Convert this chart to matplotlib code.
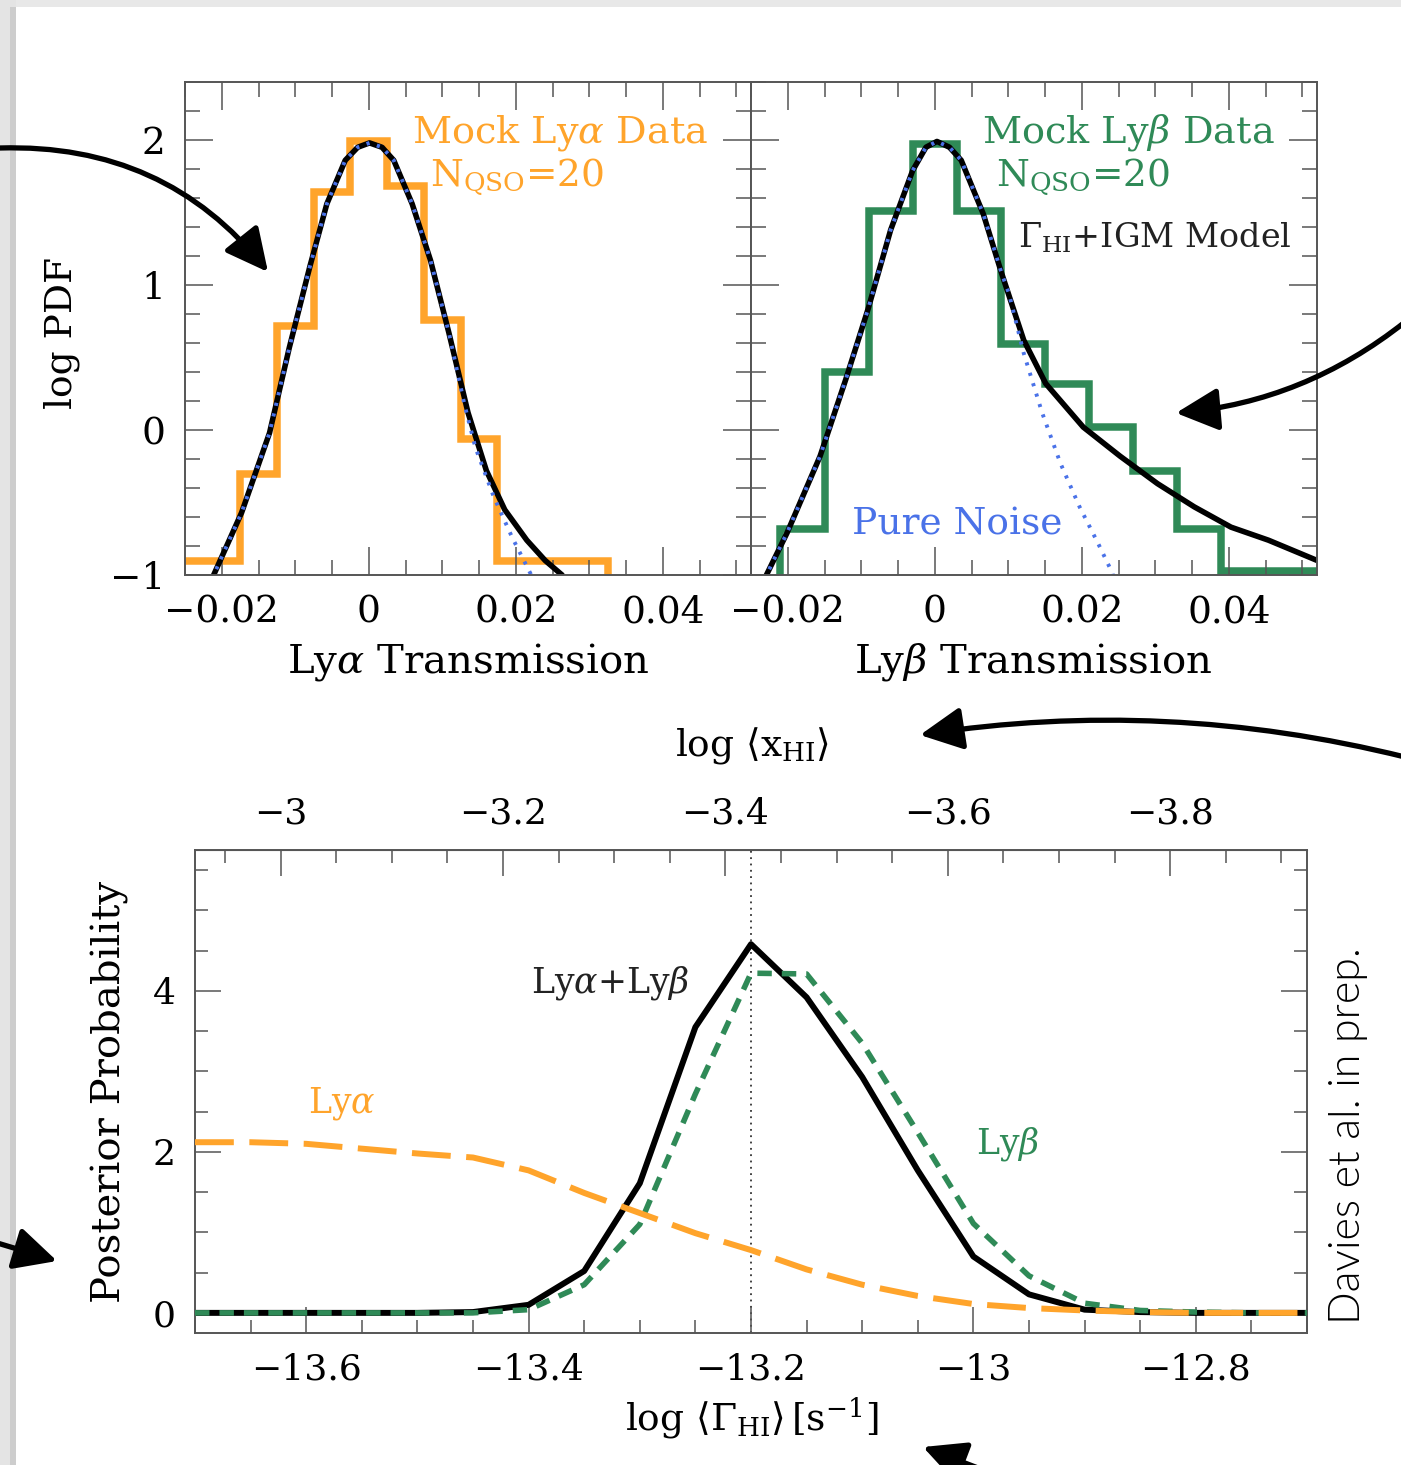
import matplotlib
matplotlib.use('Agg')
import matplotlib.pyplot as plt
from matplotlib.patches import FancyArrowPatch, Rectangle
from matplotlib.ticker import MultipleLocator, FuncFormatter, FixedLocator

plt.rcParams['font.family'] = 'DejaVu Serif'
plt.rcParams['mathtext.fontset'] = 'dejavuserif'

W, H = 1401, 1465
orange = '#ffa42b'
green = '#2f8a57'
blue = '#4a72e8'
spine_col = '#555555'

# --- top left: Lya transmission PDF ---
lya_edges = [-0.0275, -0.0175, -0.0125, -0.0075, -0.0025, 0.0025, 0.0075, 0.0125, 0.0175, 0.0325]
lya_hist = [-0.90, -0.30, 0.72, 1.64, 1.99, 1.68, 0.76, -0.06, -0.90]
lya_model_x = [-0.0218, -0.0211, -0.0173, -0.0135, -0.0108, -0.0080, -0.0057, -0.0032, -0.0015,
               0.0001, 0.0018, 0.0034, 0.0059, 0.0084, 0.0109, 0.0135, 0.0160, 0.0185,
               0.0215, 0.0240, 0.0263, 0.0270]
lya_model_y = [-1.1, -1.0, -0.57, -0.02, 0.57, 1.13, 1.56, 1.86, 1.95,
               1.98, 1.95, 1.86, 1.56, 1.17, 0.67, 0.12, -0.28, -0.55,
               -0.76, -0.90, -1.0, -1.1]
lya_noise_x = [-0.0218, -0.0211, -0.0173, -0.0135, -0.0108, -0.0080, -0.0057, -0.0032, -0.0015,
               0.0001, 0.0018, 0.0034, 0.0059, 0.0084, 0.0109, 0.0130, 0.0145, 0.0170,
               0.0195, 0.0220, 0.0225]
lya_noise_y = [-1.1, -1.0, -0.57, -0.02, 0.57, 1.13, 1.56, 1.86, 1.95,
               1.98, 1.95, 1.86, 1.56, 1.17, 0.67, 0.18, -0.12, -0.46,
               -0.74, -0.99, -1.1]

# --- top right: Lyb transmission PDF ---
lyb_edges = [-0.021, -0.015, -0.009, -0.003, 0.003, 0.009, 0.015, 0.021, 0.027, 0.033, 0.039, 0.0525]
lyb_hist = [-0.68, 0.40, 1.51, 1.97, 1.51, 0.59, 0.32, 0.02, -0.28, -0.68, -0.975]
lyb_model_x = [-0.0236, -0.0229, -0.0201, -0.0156, -0.0121, -0.0091, -0.0060, -0.0030, -0.0012,
               0.0003, 0.0020, 0.0036, 0.0066, 0.0091, 0.0121, 0.0151, 0.0202, 0.0252,
               0.0303, 0.0353, 0.0403, 0.0454, 0.0525]
lyb_model_y = [-1.1, -1.0, -0.71, -0.18, 0.35, 0.83, 1.38, 1.79, 1.95,
               1.99, 1.95, 1.86, 1.49, 1.08, 0.62, 0.32, 0.02, -0.18,
               -0.37, -0.53, -0.67, -0.76, -0.91]
lyb_noise_x = [-0.0236, -0.0229, -0.0201, -0.0156, -0.0121, -0.0091, -0.0060, -0.0030, -0.0012,
               0.0003, 0.0020, 0.0036, 0.0066, 0.0091, 0.0101, 0.0121, 0.0146, 0.0171,
               0.0197, 0.0222, 0.0242, 0.0246]
lyb_noise_y = [-1.1, -1.0, -0.71, -0.18, 0.35, 0.83, 1.38, 1.79, 1.95,
               1.99, 1.95, 1.86, 1.49, 1.08, 0.94, 0.53, 0.12, -0.23,
               -0.53, -0.78, -0.99, -1.1]

# --- bottom: posterior on log Gamma_HI ---
gamma = [-13.70, -13.65, -13.60, -13.55, -13.50, -13.45, -13.40, -13.35, -13.30, -13.25, -13.20,
         -13.15, -13.10, -13.05, -13.00, -12.95, -12.90, -12.85, -12.80, -12.75, -12.70]
post_both = [0, 0, 0, 0, 0, 0.01, 0.10, 0.52, 1.61, 3.55, 4.58,
             3.92, 2.93, 1.77, 0.70, 0.23, 0.04, 0.01, 0, 0, 0]
post_lyb = [0, 0, 0, 0, 0, 0, 0.04, 0.35, 1.10, 2.72, 4.22,
            4.21, 3.35, 2.24, 1.11, 0.46, 0.12, 0.03, 0.01, 0, 0]
post_lya = [2.12, 2.12, 2.10, 2.04, 1.98, 1.93, 1.77, 1.49, 1.24, 0.99, 0.78,
            0.54, 0.35, 0.21, 0.11, 0.06, 0.03, 0.01, 0, 0, 0]
xhi_ticks = [-3.0, -3.2, -3.4, -3.6, -3.8]
gamma_true = -13.2
xhi_offset = -16.623


def fmt(v, pos):
    if abs(v) < 1e-9:
        return '0'
    return ('%g' % round(v, 4)).replace('-', '\u2212')


def px(x, y):
    return x / W, 1 - y / H


fig = plt.figure(figsize=(W / 100, H / 100), dpi=100)

# slide border
fig.add_artist(Rectangle((0, 1 - 7 / H), 1, 7 / H, transform=fig.transFigure,
                         color='#e8e8e8', lw=0, zorder=0))
fig.add_artist(Rectangle((0, 0), 16 / W, 1, transform=fig.transFigure,
                         color='#e4e4e4', lw=0, zorder=0))
fig.add_artist(Rectangle((10 / W, 0), 6 / W, 1 - 7 / H, transform=fig.transFigure,
                         color='#cdcdcd', lw=0, zorder=0))


def style_top(ax):
    ax.set_xlim(-0.025, 0.052)
    ax.set_ylim(-1, 2.4)
    ax.xaxis.set_major_locator(MultipleLocator(0.02))
    ax.xaxis.set_minor_locator(MultipleLocator(0.005))
    ax.yaxis.set_major_locator(MultipleLocator(1))
    ax.yaxis.set_minor_locator(MultipleLocator(0.2))
    ax.xaxis.set_major_formatter(FuncFormatter(fmt))
    ax.yaxis.set_major_formatter(FuncFormatter(fmt))
    ax.tick_params(which='both', direction='in', top=True, right=True,
                   color=spine_col, width=1.1, labelsize=27)
    ax.tick_params(which='major', length=20, pad=14)
    ax.tick_params(which='minor', length=10.5)
    for s in ax.spines.values():
        s.set_color(spine_col)
        s.set_linewidth(1.4)


axl = fig.add_axes([185 / W, 1 - 575 / H, 566 / W, 493 / H])
axr = fig.add_axes([751 / W, 1 - 575 / H, 566 / W, 493 / H])
style_top(axl)
style_top(axr)
axr.tick_params(labelleft=False)

axl.plot(lya_model_x, lya_model_y, color='black', lw=4.0, solid_capstyle='butt')
axl.plot(lya_noise_x, lya_noise_y, color=blue, lw=2.8, ls=(0, (0.8, 2.0)))
axl.stairs(lya_hist, lya_edges, baseline=-1.0, color=orange, lw=5.4)

axr.plot(lyb_model_x, lyb_model_y, color='black', lw=4.0, solid_capstyle='butt')
axr.plot(lyb_noise_x, lyb_noise_y, color=blue, lw=2.8, ls=(0, (0.8, 2.0)))
axr.stairs(lyb_hist, lyb_edges, baseline=-1.0, color=green, lw=5.4)

axl.text(0.0462, 1.986, r'Mock Ly$\alpha$ Data', color=orange, fontsize=27.5, ha='right', va='baseline')
axl.text(0.0201, 1.683, r'N$_{\rm QSO}$=20', color=orange, fontsize=27, ha='center', va='baseline')
axr.text(0.0462, 1.986, r'Mock Ly$\beta$ Data', color=green, fontsize=27.5, ha='right', va='baseline')
axr.text(0.0201, 1.683, r'N$_{\rm QSO}$=20', color=green, fontsize=27, ha='center', va='baseline')
axr.text(0.0113, 1.255, r'$\Gamma_{\rm HI}$+IGM Model', color='#222222', fontsize=24, ha='left', va='baseline')
axr.text(-0.0113, -0.724, 'Pure Noise', color=blue, fontsize=27, ha='left', va='baseline')

fig.text(*px(62, 333), 'log PDF', rotation=90, fontsize=27, ha='center', va='center')
fig.text(*px(468, 662), r'Ly$\alpha$ Transmission', fontsize=29, ha='center', va='center')
fig.text(*px(1033, 662), r'Ly$\beta$ Transmission', fontsize=29, ha='center', va='center')

# bottom panel
axb = fig.add_axes([195 / W, 1 - 1333 / H, 1112 / W, 483 / H])
axb.set_xlim(-13.7, -12.7)
axb.set_ylim(-0.25, 5.75)
axb.axvline(gamma_true, color='#333333', lw=1.3, ls=(0, (1, 2.5)), zorder=1)
axb.plot(gamma, post_both, color='black', lw=4.3, zorder=2)
axb.plot(gamma, post_lyb, color=green, lw=4.0, ls=(0, (2.6, 1.8)), zorder=3)
axb.plot(gamma, post_lya, color=orange, lw=4.3, ls=(0, (6.5, 2.6)), zorder=4)

axb.xaxis.set_major_locator(MultipleLocator(0.2))
axb.xaxis.set_minor_locator(MultipleLocator(0.05))
axb.yaxis.set_major_locator(MultipleLocator(2))
axb.yaxis.set_minor_locator(MultipleLocator(0.5))
axb.xaxis.set_major_formatter(FuncFormatter(fmt))
axb.yaxis.set_major_formatter(FuncFormatter(fmt))
axb.tick_params(which='both', direction='in', top=False, right=True,
                color=spine_col, width=1.1, labelsize=26)
axb.tick_params(which='major', length=19, pad=14)
axb.tick_params(which='minor', length=9.5)
for s in axb.spines.values():
    s.set_color(spine_col)
    s.set_linewidth(1.4)

sec = axb.secondary_xaxis('top', functions=(lambda g: xhi_offset - g, lambda x: xhi_offset - x))
sec.xaxis.set_major_locator(FixedLocator(xhi_ticks))
sec.xaxis.set_minor_locator(MultipleLocator(0.05))
sec.xaxis.set_major_formatter(FuncFormatter(fmt))
sec.tick_params(which='both', direction='in', color=spine_col, width=1.1, labelsize=26)
sec.tick_params(which='major', length=19, pad=14)
sec.tick_params(which='minor', length=9.5)
sec.spines['top'].set_color(spine_col)

axb.text(-13.398, 3.98, r'Ly$\alpha$+Ly$\beta$', color='#222222', fontsize=25, ha='left', va='baseline')
axb.text(-13.598, 2.495, r'Ly$\alpha$', color=orange, fontsize=25, ha='left', va='baseline')
axb.text(-12.998, 1.98, r'Ly$\beta$', color=green, fontsize=25, ha='left', va='baseline')

fig.text(*px(110, 1092), 'Posterior Probability', rotation=90, fontsize=29, ha='center', va='center')
fig.text(*px(752, 745), r'log $\langle {\rm x}_{\rm HI}\rangle$', fontsize=27, ha='center', va='center')
fig.text(*px(752, 1418), r'log $\langle \Gamma_{\rm HI}\rangle\,[{\rm s}^{-1}]$', fontsize=27,
         ha='center', va='center')
fig.text(*px(1348, 1136), 'Davies et al. in prep.', rotation=90, fontsize=31,
         family='Lato', fontweight=300, color='black', ha='center', va='center')

# annotation arrows from the slide
arrows = [((0, 148), (268, 272), -0.25),
          ((1405, 322), (1176, 413), -0.15),
          ((1405, 757), (920, 735), 0.1),
          ((-6, 1242), (57, 1261), 0.0),
          ((978, 1468), (923, 1447), 0.0)]
for (s, e, rad) in arrows:
    a = FancyArrowPatch(px(*s), px(*e), transform=fig.transFigure,
                        connectionstyle='arc3,rad=%s' % rad,
                        arrowstyle='-|>,head_length=1.3,head_width=0.65',
                        mutation_scale=20, lw=3.8, color='black', zorder=10,
                        shrinkA=0, shrinkB=0)
    fig.add_artist(a)

plt.savefig('out.png', dpi=100)
plt.close()
